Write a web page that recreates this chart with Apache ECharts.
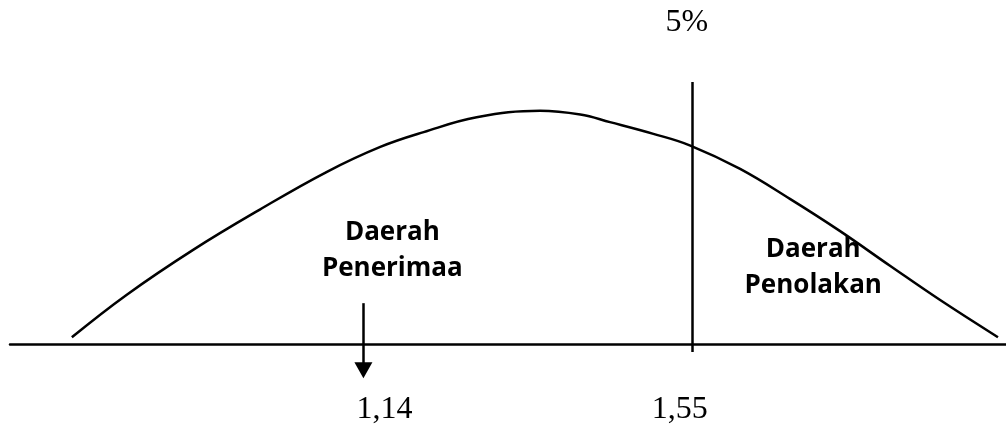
<!DOCTYPE html>
<html>
<head>
<meta charset="utf-8">
<script src="https://cdn.jsdelivr.net/npm/echarts@6/dist/echarts.min.js"></script>
<style>
  html, body { margin: 0; padding: 0; background: #ffffff; }
  #chart { width: 1006px; height: 425px; }
</style>
</head>
<body>
<div id="chart"></div>
<script>
// Curve (horizontal position in test-statistic units, relative height)
const curveX = [0.777, 0.845, 0.928, 1.011, 1.094, 1.161, 1.215, 1.281, 1.360, 1.410, 1.447, 1.501, 1.547, 1.609, 1.671, 1.733, 1.796, 1.858, 1.930];
const curveY = [0.020, 0.143, 0.274, 0.391, 0.500, 0.573, 0.616, 0.659, 0.678, 0.667, 0.645, 0.611, 0.577, 0.509, 0.422, 0.329, 0.227, 0.128, 0.020];

// Tick values and labels
const tickValues = [1.14, 1.55];
const tickLabels = ['1,14', '1,55'];
const tickLabelY = -0.189;

// Critical line
const criticalValue = 1.55;
const criticalTop = 0.762;
const criticalBottom = -0.023;
const alphaLabel = '5%';
const alphaLabelY = 0.933;

// Observed value arrow
const observedValue = 1.14;
const arrowTop = 0.119;
const arrowBottom = -0.0756;

// Region labels
const regionNames = ['Daerah\nPenerimaa', 'Daerah\nPenolakan'];
const regionX = [1.176, 1.700];
const regionY = [0.272, 0.222];

// Styles (not data)
const tickOffsets = [[21, 0], [-13, 0]];
const alphaOffset = [-6, 0];

const chart = echarts.init(document.getElementById('chart'), null, { renderer: 'canvas' });

const curveData = curveX.map((x, i) => [x, curveY[i]]);
const tickData = tickValues.map((v, i) => ({
  value: [v, tickLabelY],
  name: tickLabels[i],
  label: { offset: tickOffsets[i] }
}));
tickData.push({ value: [criticalValue, alphaLabelY], name: alphaLabel, label: { offset: alphaOffset } });

const regionData = regionNames.map((n, i) => ({ value: [regionX[i], regionY[i]], name: n }));

const hiddenItem = { color: 'rgba(0,0,0,0)', opacity: 1 };

chart.setOption({
  animation: false,
  backgroundColor: '#ffffff',
  grid: { left: 10, right: 0, top: 0, bottom: 0, containLabel: false },
  xAxis: {
    type: 'value',
    min: 0.70,
    max: 1.94,
    axisLine: { show: true, onZero: true, lineStyle: { color: '#000', width: 2.5 } },
    axisTick: { show: false },
    axisLabel: { show: false },
    splitLine: { show: false }
  },
  yAxis: {
    type: 'value',
    min: -0.235,
    max: 1,
    show: false,
    splitLine: { show: false }
  },
  series: [
    {
      type: 'line',
      data: curveData,
      smooth: 0.4,
      showSymbol: false,
      silent: true,
      lineStyle: { color: '#000', width: 2.5 },
      markLine: {
        silent: true,
        symbol: ['none', 'none'],
        label: { show: false },
        lineStyle: { color: '#000', width: 2.5, type: 'solid' },
        emphasis: { disabled: true },
        data: [[{ coord: [criticalValue, criticalTop] }, { coord: [criticalValue, criticalBottom] }]]
      }
    },
    {
      type: 'scatter',
      data: tickData,
      symbolSize: 1,
      silent: true,
      itemStyle: hiddenItem,
      label: {
        show: true,
        position: 'inside',
        formatter: '{b}',
        color: '#000',
        opacity: 1,
        fontFamily: '"Liberation Serif", "Times New Roman", serif',
        fontSize: 32
      },
      markLine: {
        silent: true,
        symbol: ['none', 'triangle'],
        symbolSize: [18, 16],
        label: { show: false },
        lineStyle: { color: '#000', width: 2.5, type: 'solid', opacity: 1 },
        itemStyle: { color: '#000', opacity: 1 },
        emphasis: { disabled: true },
        data: [[{ coord: [observedValue, arrowTop] }, { coord: [observedValue, arrowBottom] }]]
      }
    },
    {
      type: 'scatter',
      data: regionData,
      symbolSize: 1,
      silent: true,
      itemStyle: hiddenItem,
      label: {
        show: true,
        position: 'inside',
        formatter: '{b}',
        color: '#000',
        opacity: 1,
        fontFamily: '"Open Sans", sans-serif',
        fontWeight: 'bold',
        fontSize: 26,
        lineHeight: 36,
        align: 'center'
      }
    }
  ]
});
</script>
</body>
</html>
